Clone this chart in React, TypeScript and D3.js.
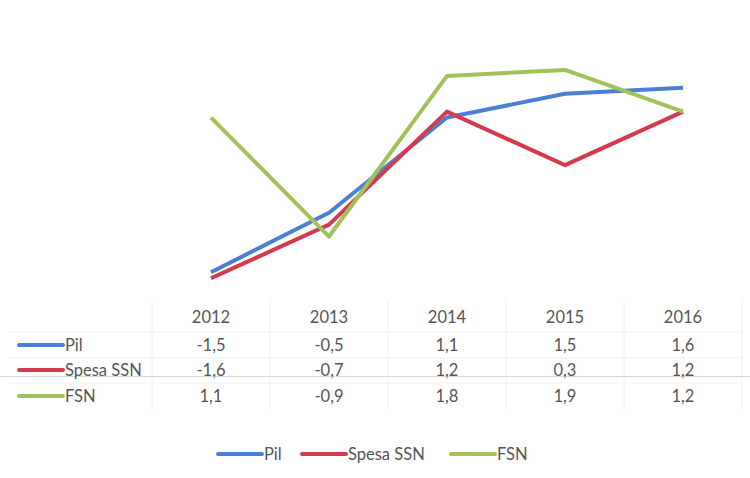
import React, { useEffect, useRef } from "react";
import * as d3 from "d3";

const years = ["2012", "2013", "2014", "2015", "2016"];
const seriesNames = ["Pil", "Spesa SSN", "FSN"];
const seriesColors = ["#4a7fd6", "#d43a4e", "#a3c15a"];
const pil = [-1.5, -0.5, 1.1, 1.5, 1.6];
const spesaSSN = [-1.6, -0.7, 1.2, 0.3, 1.2];
const fsn = [1.1, -0.9, 1.8, 1.9, 1.2];
const tableLabels = [
  ["-1,5", "-0,5", "1,1", "1,5", "1,6"],
  ["-1,6", "-0,7", "1,2", "0,3", "1,2"],
  ["1,1", "-0,9", "1,8", "1,9", "1,2"],
];

export default function App() {
  const ref = useRef<SVGSVGElement>(null);

  useEffect(() => {
    const W = 750;
    const H = 478;
    const svg = d3.select(ref.current);
    svg.selectAll("*").remove();
    const font = "Lato, 'Open Sans', sans-serif";
    const textColor = "#555";

    svg.append("rect").attr("width", W).attr("height", H).attr("fill", "#fff");

    const x = d3.scaleBand().domain(years).range([152, 742]);
    const y = d3.scaleLinear().domain([-2, 2]).range([302, 64]);
    const cx = (d: string) => (x(d) as number) + x.bandwidth() / 2;

    const all = [pil, spesaSSN, fsn];
    const line = d3
      .line<number>()
      .x((d, i) => cx(years[i]))
      .y((d) => y(d));

    all.forEach((s, k) => {
      svg
        .append("path")
        .datum(s)
        .attr("fill", "none")
        .attr("stroke", seriesColors[k])
        .attr("stroke-width", 4)
        .attr("stroke-linejoin", "round")
        .attr("d", line);
    });

    // data table
    const rowY = [317, 345, 370, 396];
    const grid = svg.append("g").attr("stroke", "#f0f0f0").attr("stroke-width", 1);
    [152, ...years.map((d) => (x(d) as number) + x.bandwidth())].forEach((xx) => {
      grid.append("line").attr("x1", xx).attr("x2", xx).attr("y1", 300).attr("y2", 410);
    });
    [332, 358, 383].forEach((yy) => {
      grid.append("line").attr("x1", 10).attr("x2", 742).attr("y1", yy).attr("y2", yy);
    });

    // fold line from the scan
    svg
      .append("line")
      .attr("x1", 0)
      .attr("x2", W)
      .attr("y1", 376.5)
      .attr("y2", 376.5)
      .attr("stroke", "#d8d8d8")
      .attr("stroke-width", 1);

    years.forEach((yr) => {
      svg
        .append("text")
        .attr("x", cx(yr))
        .attr("y", rowY[0])
        .attr("dy", "0.35em")
        .attr("text-anchor", "middle")
        .attr("font-family", font)
        .attr("font-size", 16.5)
        .attr("fill", textColor)
        .text(yr);
    });

    seriesNames.forEach((name, k) => {
      const yy = rowY[k + 1];
      svg
        .append("line")
        .attr("x1", 19)
        .attr("x2", 63)
        .attr("y1", yy)
        .attr("y2", yy)
        .attr("stroke", seriesColors[k])
        .attr("stroke-width", 4)
        .attr("stroke-linecap", "round");
      svg
        .append("text")
        .attr("x", 65)
        .attr("y", yy)
        .attr("dy", "0.35em")
        .attr("font-family", font)
        .attr("font-size", 16.5)
        .attr("fill", textColor)
        .text(name);
      tableLabels[k].forEach((v, i) => {
        svg
          .append("text")
          .attr("x", cx(years[i]))
          .attr("y", yy)
          .attr("dy", "0.35em")
          .attr("text-anchor", "middle")
          .attr("font-family", font)
          .attr("font-size", 16.5)
          .attr("fill", textColor)
          .text(v);
      });
    });

    // legend
    const legendX = [218, 302, 451];
    seriesNames.forEach((name, k) => {
      const lx = legendX[k];
      svg
        .append("line")
        .attr("x1", lx)
        .attr("x2", lx + 44)
        .attr("y1", 454)
        .attr("y2", 454)
        .attr("stroke", seriesColors[k])
        .attr("stroke-width", 4)
        .attr("stroke-linecap", "round");
      svg
        .append("text")
        .attr("x", lx + 46)
        .attr("y", 454)
        .attr("dy", "0.35em")
        .attr("font-family", font)
        .attr("font-size", 16.5)
        .attr("fill", textColor)
        .text(name);
    });
  }, []);

  return (
    <div style={{ position: "absolute", left: 0, top: 0 }}>
      <svg ref={ref} width={750} height={478} style={{ display: "block" }} />
    </div>
  );
}
